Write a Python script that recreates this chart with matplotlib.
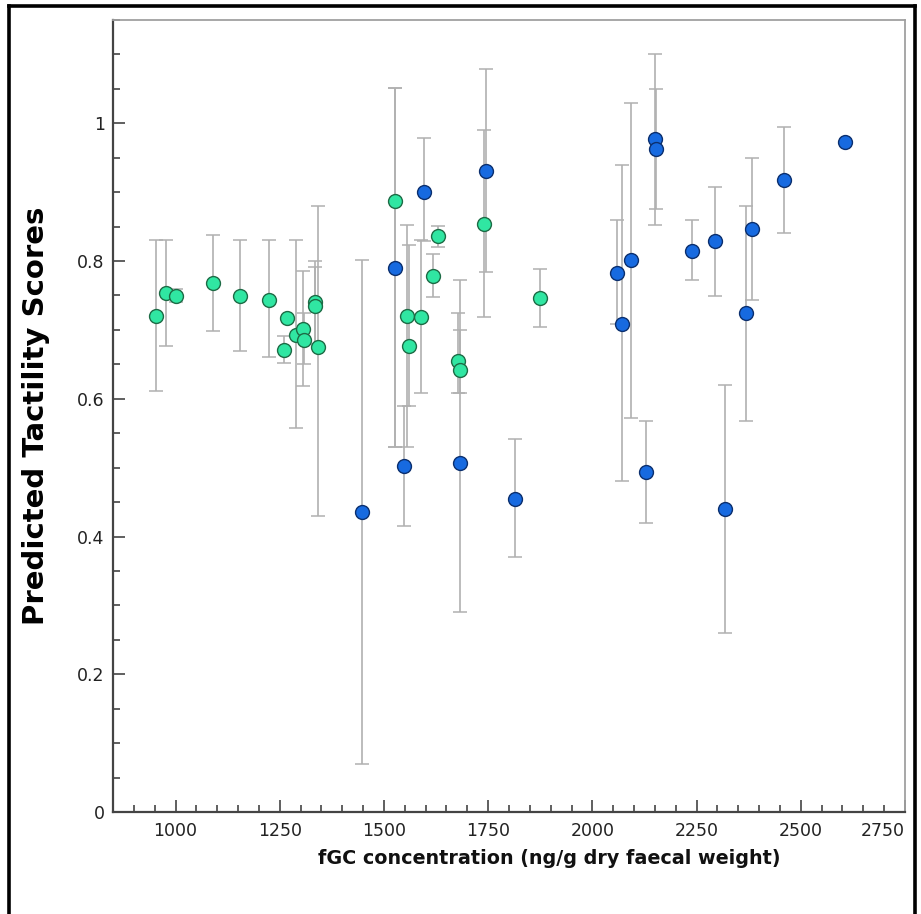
import numpy as np
import matplotlib
matplotlib.use("Agg")
import matplotlib.pyplot as plt
from matplotlib.lines import Line2D
from matplotlib.ticker import MultipleLocator

# ----- data -----
green_x = [954, 976, 1001, 1090, 1154, 1225, 1260, 1267, 1288, 1305, 1308, 1334, 1334, 1341,
           1527, 1555, 1560, 1589, 1617, 1629, 1678, 1682, 1740, 1874]
green_y = [0.720, 0.753, 0.749, 0.768, 0.749, 0.744, 0.671, 0.718, 0.692, 0.702, 0.686, 0.741, 0.734, 0.675,
           0.887, 0.720, 0.677, 0.719, 0.779, 0.836, 0.655, 0.642, 0.854, 0.747]
green_lo = [0.611, 0.677, 0.740, 0.699, 0.670, 0.660, 0.652, np.nan, 0.557, 0.619, 0.650, 0.680, 0.680, 0.430,
            0.530, 0.530, 0.590, 0.608, 0.748, 0.820, 0.608, 0.608, 0.719, 0.704]
green_hi = [0.831, 0.830, 0.759, 0.838, 0.830, 0.830, 0.691, np.nan, 0.830, 0.785, 0.724, 0.800, 0.791, 0.880,
            1.051, 0.852, 0.823, 0.830, 0.810, 0.851, 0.724, 0.773, 0.990, 0.789]

blue_x = [1448, 1527, 1547, 1595, 1682, 1744, 1815, 2058, 2070, 2092, 2128, 2150, 2153, 2238, 2295,
          2319, 2368, 2383, 2460, 2607]
blue_y = [0.436, 0.790, 0.502, 0.900, 0.507, 0.931, 0.454, 0.783, 0.709, 0.801, 0.494, 0.977, 0.963, 0.815, 0.829,
          0.440, 0.724, 0.846, 0.917, 0.973]
blue_lo = [0.070, 0.530, 0.416, 0.829, 0.290, 0.784, 0.370, 0.709, 0.480, 0.572, 0.420, 0.853, 0.876, 0.772, 0.749,
           0.260, 0.568, 0.743, 0.840, np.nan]
blue_hi = [0.802, 1.051, 0.589, 0.979, 0.700, 1.079, 0.541, 0.860, 0.939, 1.030, 0.568, 1.100, 1.050, 0.860, 0.908,
           0.620, 0.880, 0.950, 0.994, np.nan]

x_ticks = [1000, 1250, 1500, 1750, 2000, 2250, 2500, 2750]
y_ticks = [0, 0.2, 0.4, 0.6, 0.8, 1]
y_tick_labels = ["0", "0.2", "0.4", "0.6", "0.8", "1"]


def asym_err(y, lo, hi):
    y, lo, hi = np.array(y), np.array(lo), np.array(hi)
    return np.vstack([y - lo, hi - y])


fig = plt.figure(figsize=(9.21, 9.14), dpi=100)
ax = fig.add_axes([113 / 921, 1 - 812 / 914, 792 / 921, 792 / 914])

# error bars first, points on top
for xs, ys, lo, hi in [(green_x, green_y, green_lo, green_hi), (blue_x, blue_y, blue_lo, blue_hi)]:
    ax.errorbar(xs, ys, yerr=asym_err(ys, lo, hi), fmt="none", ecolor="#b0b0b0",
                elinewidth=1.2, capsize=5, capthick=1.1, zorder=2)

ax.scatter(green_x, green_y, s=100, color="#30e6a2", edgecolor="#1d6b45", linewidth=1.0, zorder=3)
ax.scatter(blue_x, blue_y, s=100, color="#176ae0", edgecolor="#0b2f6e", linewidth=1.0, zorder=4)

ax.set_xlim(850, 2750)
ax.set_ylim(0, 1.15)
ax.set_xticks(x_ticks)
ax.set_yticks(y_ticks)
ax.set_yticklabels(y_tick_labels)
ax.xaxis.set_minor_locator(MultipleLocator(50))
ax.yaxis.set_minor_locator(MultipleLocator(0.05))

ax.tick_params(which="both", direction="in", color="#444444", width=1.2, labelsize=12.5,
               labelcolor="#222222")
ax.tick_params(which="major", length=8.5)
ax.tick_params(which="minor", length=5)
ax.tick_params(axis="y", pad=6)
ax.tick_params(axis="x", pad=7)
ax.get_xticklabels()[-1].set_horizontalalignment("right")

for side in ["left", "bottom"]:
    ax.spines[side].set_color("#444444")
    ax.spines[side].set_linewidth(1.6)
for side in ["top", "right"]:
    ax.spines[side].set_color("#a0a0a0")
    ax.spines[side].set_linewidth(1.3)

ax.set_xlabel("fGC concentration (ng/g dry faecal weight)", fontsize=13.8, fontweight="bold",
              color="#111111")
ax.xaxis.set_label_coords(0.5505, -0.047)
ax.set_ylabel("Predicted Tactility Scores", fontsize=21, fontweight="bold", color="black")
ax.yaxis.set_label_coords(-0.079, 0.50)

# black frame around the whole picture (bottom edge is cut off)
x0, x1, yt = 9 / 921, 914.7 / 921, 1 - 6 / 914
for xs, ys in [([x0, x0], [-0.01, yt]), ([x0, x1], [yt, yt]), ([x1, x1], [yt, -0.01])]:
    fig.add_artist(Line2D(xs, ys, transform=fig.transFigure, color="black", linewidth=2.6))

fig.savefig("out.png", dpi=100)
